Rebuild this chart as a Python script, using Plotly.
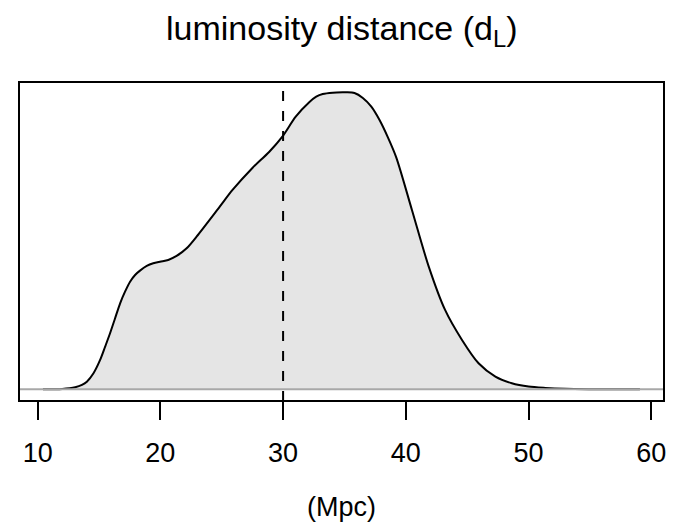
import plotly.graph_objects as go

# Density of luminosity distance (Mpc)
dist_mpc = [10.43, 12.0, 13.06, 13.61, 14.01, 14.55, 15.09, 15.5, 15.9, 16.31,
            16.72, 17.12, 17.53, 17.94, 18.34, 18.89, 19.42, 19.97, 20.64, 21.32,
            22.14, 22.95, 24.84, 25.88, 27.5, 28.86, 29.94, 31.03, 32.15, 32.7,
            33.23, 34.05, 34.86, 35.14, 35.82, 36.5, 37.19, 37.86, 38.54, 39.22,
            40.5, 41.87, 43.2, 44.58, 45.93, 47.3, 48.64, 50.0, 51.36, 53.0,
            55.0, 57.0, 59.08]
density = [0.0, 0.00005, 0.0003, 0.00065, 0.00114, 0.0024, 0.0044, 0.0064, 0.0084, 0.01065,
           0.0129, 0.01464, 0.01614, 0.01715, 0.0178, 0.0185, 0.0189, 0.01914, 0.0194, 0.0200,
           0.02115, 0.0229, 0.0274, 0.0299, 0.0332, 0.0356, 0.0379, 0.0409, 0.0431, 0.0439,
           0.0443, 0.0445, 0.04455, 0.04455, 0.04445, 0.0437, 0.0424, 0.0404, 0.0378, 0.0348,
           0.0269, 0.0184, 0.0119, 0.0074, 0.0039, 0.0019, 0.0009, 0.0004, 0.0002, 0.00007,
           0.00002, 0.0, 0.0]
marker_value = 30
tick_vals = [10, 20, 30, 40, 50, 60]
tick_text = ["10", "20", "30", "40", "50", "60"]

FONT = "Liberation Sans, Arial, Helvetica, sans-serif"

fig = go.Figure()
fig.add_trace(go.Scatter(
    x=dist_mpc, y=density, mode="lines", line=dict(color="black", width=2, shape="spline", smoothing=0.8),
    fill="tozeroy", fillcolor="#e5e5e5", hoverinfo="skip", showlegend=False))

# The page body has an 8px default margin, so the figure is sized 8px smaller
fig.update_layout(
    width=667, height=516,
    margin=dict(l=11, r=9, t=74, b=123),
    paper_bgcolor="white", plot_bgcolor="white",
    font=dict(family=FONT, color="black"),
    xaxis=dict(range=[8.48, 61.04], showgrid=False, zeroline=False, showline=False,
               tickmode="array", tickvals=tick_vals, ticktext=tick_text,
               ticks="outside", ticklen=18, tickwidth=2, tickcolor="black",
               tickfont=dict(size=27, family=FONT, color="black"), ticklabelstandoff=10),
    yaxis=dict(range=[-0.00176, 0.0461], showgrid=False, zeroline=False, showline=False,
               showticklabels=False, ticks=""),
    shapes=[
        dict(type="line", xref="x", yref="paper", x0=marker_value, x1=marker_value, y0=0, y1=1,
             line=dict(color="black", width=2, dash="10px,10px")),
        dict(type="line", xref="paper", yref="y", x0=0, x1=1, y0=0, y1=0,
             line=dict(color="#a8a8a8", width=2)),
        dict(type="rect", xref="paper", yref="paper", x0=0, x1=1, y0=0, y1=1,
             line=dict(color="black", width=2)),
    ],
    annotations=[
        dict(text="luminosity distance (d<sub>L</sub>)", xref="paper", yref="paper",
             x=0.5, y=1, yshift=52, xanchor="center", yanchor="middle", showarrow=False,
             font=dict(size=34, family=FONT, color="black")),
        dict(text="(Mpc)", xref="paper", yref="paper", x=0.5, y=0, yshift=-106,
             xanchor="center", yanchor="middle", showarrow=False,
             font=dict(size=27, family=FONT, color="black")),
    ],
)

fig.write_html("out.html")
